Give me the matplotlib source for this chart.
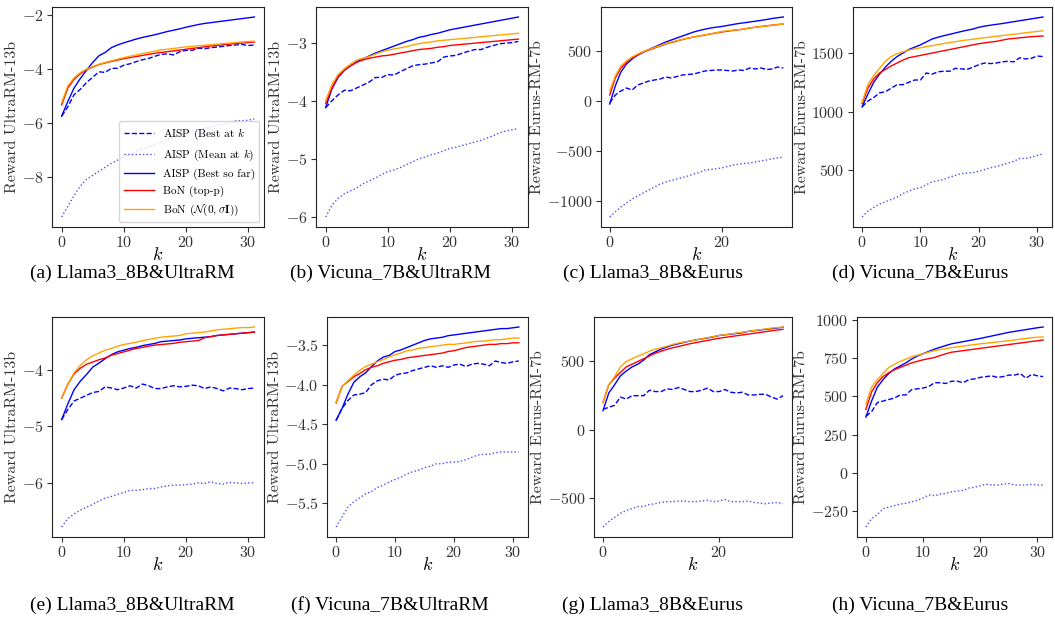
import numpy as np
import matplotlib
matplotlib.use("Agg")
import matplotlib.pyplot as plt

plt.rcParams["font.family"] = "serif"
plt.rcParams["font.serif"] = ["cmr10"]
plt.rcParams["mathtext.fontset"] = "cm"
plt.rcParams["axes.formatter.use_mathtext"] = True
plt.rcParams["axes.unicode_minus"] = True

k = np.arange(32)

# ---- (a) Llama3_8B & UltraRM ----
a_best_at_k = [-5.75, -5.4, -4.95, -4.75, -4.5, -4.3, -4.1, -4.12, -3.97, -3.97, -3.85, -3.8, -3.72, -3.65, -3.6, -3.52,
               -3.45, -3.43, -3.47, -3.35, -3.3, -3.3, -3.22, -3.24, -3.2, -3.18, -3.15, -3.12, -3.1, -3.08, -3.12, -3.1]
a_mean_at_k = [-9.5, -9.1, -8.7, -8.35, -8.1, -7.95, -7.8, -7.65, -7.5, -7.38, -7.25, -7.15, -7.05, -6.97, -6.88, -6.8,
               -6.72, -6.64, -6.55, -6.45, -6.35, -6.3, -6.25, -6.2, -6.15, -6.1, -6.05, -6.0, -5.92, -5.92, -5.9, -5.85]
a_best_so_far = [-5.75, -5.2, -4.7, -4.35, -4.04, -3.75, -3.5, -3.38, -3.2, -3.1, -3.02, -2.95, -2.88, -2.82, -2.77, -2.72,
                 -2.66, -2.6, -2.55, -2.5, -2.44, -2.39, -2.34, -2.3, -2.27, -2.24, -2.21, -2.18, -2.15, -2.12, -2.09, -2.06]
a_bon_topp = [-5.33, -4.7, -4.38, -4.17, -4.02, -3.92, -3.83, -3.77, -3.71, -3.66, -3.61, -3.57, -3.53, -3.49, -3.45, -3.41,
              -3.38, -3.35, -3.32, -3.29, -3.26, -3.23, -3.2, -3.17, -3.14, -3.12, -3.09, -3.07, -3.05, -3.03, -3.01, -2.99]
a_bon_gauss = [-5.25, -4.62, -4.32, -4.13, -4.0, -3.9, -3.82, -3.75, -3.69, -3.63, -3.57, -3.52, -3.47, -3.42, -3.38, -3.33,
               -3.28, -3.26, -3.23, -3.2, -3.17, -3.15, -3.13, -3.11, -3.09, -3.07, -3.05, -3.03, -3.01, -2.99, -2.97, -2.96]

# ---- (b) Vicuna_7B & UltraRM ----
b_best_at_k = [-4.12, -4.0, -3.9, -3.82, -3.83, -3.78, -3.73, -3.68, -3.6, -3.6, -3.55, -3.56, -3.5, -3.45, -3.4, -3.38,
               -3.37, -3.35, -3.33, -3.25, -3.23, -3.22, -3.18, -3.15, -3.12, -3.12, -3.08, -3.05, -3.02, -3.01, -3.0, -2.98]
b_mean_at_k = [-6.0, -5.8, -5.68, -5.6, -5.55, -5.5, -5.43, -5.38, -5.33, -5.27, -5.22, -5.19, -5.15, -5.1, -5.05, -5.0,
               -4.97, -4.93, -4.9, -4.86, -4.82, -4.8, -4.77, -4.74, -4.71, -4.68, -4.64, -4.6, -4.55, -4.52, -4.5, -4.48]
b_best_so_far = [-4.12, -3.8, -3.6, -3.48, -3.4, -3.33, -3.28, -3.23, -3.18, -3.14, -3.1, -3.06, -3.02, -2.98, -2.95, -2.91,
                 -2.89, -2.86, -2.84, -2.81, -2.78, -2.76, -2.74, -2.72, -2.7, -2.68, -2.66, -2.64, -2.62, -2.6, -2.58, -2.56]
b_bon_topp = [-4.05, -3.78, -3.58, -3.47, -3.4, -3.34, -3.3, -3.27, -3.25, -3.23, -3.22, -3.2, -3.18, -3.16, -3.14, -3.12,
              -3.11, -3.1, -3.08, -3.07, -3.05, -3.04, -3.03, -3.02, -3.01, -3.0, -2.99, -2.98, -2.97, -2.96, -2.95, -2.94]
b_bon_gauss = [-4.0, -3.72, -3.55, -3.45, -3.37, -3.3, -3.27, -3.24, -3.2, -3.16, -3.13, -3.11, -3.09, -3.07, -3.04, -3.02,
               -3.0, -2.99, -2.97, -2.96, -2.95, -2.94, -2.93, -2.92, -2.91, -2.9, -2.89, -2.88, -2.87, -2.86, -2.85, -2.84]

# ---- (c) Llama3_8B & Eurus ----
c_best_at_k = [-20, 60, 100, 130, 110, 160, 180, 200, 210, 220, 240, 230, 245, 260, 265, 270,
               285, 300, 305, 310, 310, 305, 300, 310, 305, 330, 320, 330, 315, 320, 340, 330]
c_mean_at_k = [-1160, -1110, -1060, -1020, -980, -950, -920, -890, -860, -830, -810, -795, -780, -765, -750, -730,
               -715, -690, -685, -678, -670, -655, -640, -632, -625, -620, -610, -600, -590, -578, -570, -560]
c_best_so_far = [-30, 150, 290, 370, 420, 460, 490, 515, 540, 565, 590, 610, 630, 650, 670, 690,
                 705, 718, 730, 738, 745, 755, 765, 775, 782, 790, 798, 806, 815, 825, 833, 840]
c_bon_topp = [60, 230, 330, 390, 430, 460, 490, 510, 530, 550, 570, 585, 600, 615, 628, 640,
              650, 660, 670, 680, 690, 698, 705, 712, 720, 730, 738, 745, 752, 758, 764, 770]
c_bon_gauss = [100, 250, 350, 400, 440, 470, 495, 515, 535, 555, 575, 590, 603, 617, 630, 640,
               650, 662, 672, 683, 695, 702, 708, 714, 720, 730, 737, 744, 750, 757, 764, 770]

# ---- (d) Vicuna_7B & Eurus ----
d_best_at_k = [1040, 1090, 1120, 1160, 1170, 1200, 1230, 1230, 1250, 1270, 1270, 1330, 1320, 1340, 1345, 1345,
               1370, 1365, 1360, 1380, 1400, 1415, 1410, 1415, 1425, 1430, 1425, 1460, 1450, 1455, 1475, 1470]
d_mean_at_k = [100, 150, 180, 210, 230, 250, 270, 300, 320, 340, 350, 375, 400, 410, 420, 440,
               455, 470, 475, 480, 490, 505, 520, 530, 545, 560, 575, 600, 600, 610, 625, 640]
d_best_so_far = [1040, 1150, 1250, 1320, 1380, 1430, 1470, 1500, 1530, 1550, 1570, 1595, 1620, 1635, 1648, 1660,
                 1672, 1684, 1695, 1705, 1720, 1730, 1738, 1745, 1752, 1760, 1768, 1776, 1784, 1792, 1800, 1808]
d_bon_topp = [1070, 1200, 1280, 1330, 1360, 1390, 1415, 1440, 1460, 1470, 1480, 1490, 1500, 1510, 1520, 1530,
              1540, 1550, 1560, 1570, 1580, 1587, 1594, 1600, 1610, 1620, 1625, 1630, 1635, 1640, 1643, 1646]
d_bon_gauss = [1080, 1230, 1310, 1370, 1430, 1470, 1495, 1510, 1525, 1535, 1545, 1555, 1563, 1572, 1581, 1590,
               1598, 1605, 1612, 1618, 1625, 1631, 1637, 1643, 1649, 1655, 1661, 1667, 1673, 1679, 1685, 1690]

# ---- (e) Llama3_8B & UltraRM ----
e_best_at_k = [-4.88, -4.7, -4.55, -4.5, -4.45, -4.4, -4.38, -4.3, -4.32, -4.35, -4.32, -4.28, -4.32, -4.25, -4.28, -4.33,
               -4.33, -4.3, -4.28, -4.3, -4.29, -4.27, -4.28, -4.33, -4.3, -4.33, -4.37, -4.32, -4.33, -4.35, -4.33, -4.32]
e_mean_at_k = [-6.78, -6.63, -6.55, -6.48, -6.43, -6.38, -6.32, -6.27, -6.24, -6.2, -6.17, -6.13, -6.13, -6.12, -6.1, -6.1,
               -6.07, -6.05, -6.04, -6.04, -6.03, -6.02, -6.0, -6.01, -5.98, -6.01, -6.02, -5.99, -6.0, -6.01, -6.0, -6.0]
e_best_so_far = [-4.88, -4.6, -4.35, -4.2, -4.08, -3.95, -3.88, -3.8, -3.73, -3.68, -3.65, -3.62, -3.6, -3.57, -3.55, -3.53,
                 -3.5, -3.49, -3.48, -3.47, -3.45, -3.44, -3.43, -3.42, -3.41, -3.39, -3.38, -3.37, -3.36, -3.35, -3.34, -3.33]
e_bon_topp = [-4.5, -4.25, -4.07, -3.97, -3.9, -3.86, -3.82, -3.79, -3.74, -3.71, -3.68, -3.65, -3.62, -3.6, -3.58, -3.56,
              -3.55, -3.54, -3.53, -3.51, -3.5, -3.49, -3.48, -3.43, -3.41, -3.39, -3.38, -3.37, -3.36, -3.35, -3.34, -3.33]
e_bon_gauss = [-4.5, -4.25, -4.05, -3.92, -3.82, -3.75, -3.7, -3.65, -3.62, -3.58, -3.55, -3.53, -3.51, -3.48, -3.46, -3.44,
               -3.42, -3.41, -3.4, -3.39, -3.36, -3.35, -3.34, -3.33, -3.31, -3.29, -3.28, -3.27, -3.26, -3.25, -3.25, -3.24]

# ---- (f) Vicuna_7B & UltraRM ----
f_best_at_k = [-4.45, -4.3, -4.2, -4.13, -4.12, -4.1, -4.0, -3.95, -3.93, -3.94, -3.88, -3.86, -3.85, -3.82, -3.8, -3.78,
               -3.76, -3.78, -3.76, -3.78, -3.75, -3.74, -3.77, -3.74, -3.73, -3.74, -3.76, -3.7, -3.72, -3.73, -3.71, -3.7]
f_mean_at_k = [-5.8, -5.67, -5.55, -5.48, -5.43, -5.38, -5.35, -5.3, -5.27, -5.23, -5.2, -5.17, -5.13, -5.1, -5.08, -5.05,
               -5.03, -5.0, -5.0, -4.98, -4.98, -4.97, -4.95, -4.92, -4.89, -4.88, -4.88, -4.86, -4.85, -4.85, -4.85, -4.85]
f_best_so_far = [-4.45, -4.3, -4.12, -3.97, -3.9, -3.85, -3.77, -3.7, -3.65, -3.63, -3.58, -3.56, -3.53, -3.5, -3.47, -3.44,
                 -3.42, -3.41, -3.4, -3.38, -3.37, -3.36, -3.35, -3.34, -3.33, -3.32, -3.31, -3.3, -3.29, -3.29, -3.28, -3.27]
f_bon_topp = [-4.23, -4.02, -3.96, -3.9, -3.86, -3.81, -3.78, -3.76, -3.73, -3.71, -3.69, -3.68, -3.66, -3.65, -3.64, -3.63,
              -3.62, -3.61, -3.6, -3.58, -3.57, -3.55, -3.53, -3.52, -3.51, -3.5, -3.49, -3.49, -3.48, -3.48, -3.47, -3.47]
f_bon_gauss = [-4.22, -4.02, -3.95, -3.88, -3.82, -3.77, -3.74, -3.71, -3.68, -3.65, -3.62, -3.6, -3.57, -3.56, -3.54, -3.53,
               -3.52, -3.51, -3.5, -3.49, -3.49, -3.48, -3.47, -3.46, -3.45, -3.45, -3.44, -3.43, -3.43, -3.42, -3.41, -3.41]

# ---- (g) Llama3_8B & Eurus ----
g_best_at_k = [150, 165, 180, 240, 225, 250, 250, 250, 290, 280, 280, 300, 295, 310, 295, 280,
               280, 290, 305, 280, 280, 295, 275, 270, 275, 255, 255, 260, 260, 240, 225, 250]
g_mean_at_k = [-710, -670, -640, -610, -590, -575, -560, -560, -545, -540, -530, -525, -525, -520, -520, -525,
               -525, -520, -515, -525, -520, -510, -525, -525, -525, -520, -530, -535, -540, -535, -530, -540]
g_best_so_far = [140, 270, 330, 395, 430, 460, 480, 510, 550, 570, 590, 605, 620, 630, 640, 650,
                 658, 665, 672, 680, 690, 695, 700, 705, 710, 720, 725, 730, 735, 740, 745, 750]
g_bon_topp = [200, 330, 380, 420, 460, 480, 500, 520, 540, 560, 575, 588, 600, 610, 620, 630,
              638, 646, 654, 662, 670, 676, 682, 688, 694, 700, 706, 712, 718, 724, 730, 735]
g_bon_gauss = [200, 330, 390, 460, 500, 520, 540, 555, 575, 590, 600, 612, 625, 635, 643, 650,
               658, 666, 674, 682, 690, 696, 702, 708, 714, 720, 726, 732, 738, 744, 748, 752]

# ---- (h) Vicuna_7B & Eurus ----
h_best_at_k = [370, 400, 460, 470, 480, 490, 510, 510, 545, 550, 555, 565, 590, 590, 585, 600,
               600, 590, 610, 615, 625, 630, 635, 625, 630, 640, 640, 650, 620, 645, 635, 630]
h_mean_at_k = [-355, -300, -275, -235, -225, -215, -205, -200, -190, -180, -165, -145, -150, -140, -135, -125,
               -120, -115, -100, -95, -85, -75, -80, -80, -75, -70, -80, -80, -80, -75, -80, -80]
h_best_so_far = [365, 470, 560, 610, 650, 680, 700, 720, 745, 765, 780, 795, 810, 822, 834, 845,
                 852, 859, 866, 873, 880, 888, 896, 904, 912, 920, 926, 932, 938, 944, 950, 955]
h_bon_topp = [415, 530, 590, 630, 655, 675, 690, 705, 720, 730, 740, 748, 755, 768, 780, 790,
              795, 800, 805, 810, 815, 820, 825, 830, 835, 840, 845, 850, 855, 860, 865, 870]
h_bon_gauss = [450, 560, 610, 650, 690, 710, 730, 745, 760, 770, 780, 790, 800, 807, 814, 820,
               825, 830, 835, 840, 845, 849, 853, 857, 861, 865, 870, 875, 880, 885, 888, 890]

captions = ["(a) Llama3_8B&UltraRM", "(b) Vicuna_7B&UltraRM", "(c) Llama3_8B&Eurus", "(d) Vicuna_7B&Eurus",
            "(e) Llama3_8B&UltraRM", "(f) Vicuna_7B&UltraRM", "(g) Llama3_8B&Eurus", "(h) Vicuna_7B&Eurus"]
ylabels = ["Reward UltraRM-13b", "Reward UltraRM-13b", "Reward Eurus-RM-7b", "Reward Eurus-RM-7b"] * 2
yticks = [[-8, -6, -4, -2], [-6, -5, -4, -3], [-1000, -500, 0, 500], [500, 1000, 1500],
          [-6, -5, -4], [-5.5, -5.0, -4.5, -4.0, -3.5], [-500, 0, 500], [-250, 0, 250, 500, 750, 1000]]
xticks = [[0, 10, 20, 30], [0, 10, 20, 30], [0, 20], [0, 10, 20, 30]] * 2

panels = [
    (a_best_at_k, a_mean_at_k, a_best_so_far, a_bon_topp, a_bon_gauss),
    (b_best_at_k, b_mean_at_k, b_best_so_far, b_bon_topp, b_bon_gauss),
    (c_best_at_k, c_mean_at_k, c_best_so_far, c_bon_topp, c_bon_gauss),
    (d_best_at_k, d_mean_at_k, d_best_so_far, d_bon_topp, d_bon_gauss),
    (e_best_at_k, e_mean_at_k, e_best_so_far, e_bon_topp, e_bon_gauss),
    (f_best_at_k, f_mean_at_k, f_best_so_far, f_bon_topp, f_bon_gauss),
    (g_best_at_k, g_mean_at_k, g_best_so_far, g_bon_topp, g_bon_gauss),
    (h_best_at_k, h_mean_at_k, h_best_so_far, h_bon_topp, h_bon_gauss),
]

W, H = 1055, 621
# axes boxes in pixels: left, right, top, bottom
boxes = [(52, 264, 7, 227), (316, 528, 7, 227), (601, 792, 7, 227), (853, 1052, 7, 227),
         (52, 264, 317, 537), (327, 528, 317, 537), (594, 792, 317, 537), (857, 1052, 317, 537)]
caption_x = [132, 390, 653, 920] * 2
caption_y = [273] * 4 + [605] * 4

fig = plt.figure(figsize=(W / 100, H / 100), dpi=100)

for i, (best_k, mean_k, best_sf, topp, gauss) in enumerate(panels):
    l, r, t, b = boxes[i]
    ax = fig.add_axes([l / W, 1 - b / H, (r - l) / W, (b - t) / H])
    ax.plot(k, best_k, color="blue", linestyle="--", linewidth=1.0, label=r"AISP (Best at $k$")
    ax.plot(k, mean_k, color="blue", linestyle=":", linewidth=1.0, alpha=0.7, label=r"AISP (Mean at $k$)")
    ax.plot(k, best_sf, color="blue", linewidth=1.0, label="AISP (Best so far)")
    ax.plot(k, topp, color="red", linewidth=1.0, label="BoN (top-p)")
    ax.plot(k, gauss, color="orange", linewidth=1.0, label=r"BoN ($\mathcal{N}(\mathbf{0},\sigma\mathbf{I})$)")
    ax.set_xticks(xticks[i])
    ax.set_yticks(yticks[i])
    ax.tick_params(labelsize=11.5, colors="#333333", pad=2.5)
    ax.set_xlabel(r"$k$", fontsize=13, labelpad=-3)
    ax.set_ylabel(ylabels[i], fontsize=11.5, color="#333333", labelpad=2)
    for s in ax.spines.values():
        s.set_color("#222222")
    if i == 0:
        ax.legend(loc="lower right", fontsize=8.2, handlelength=2.6, borderaxespad=0.4)
    fig.text(caption_x[i] / W, 1 - caption_y[i] / H, captions[i], ha="center", va="center",
             fontsize=14, family="Liberation Serif")

fig.savefig("out.png", dpi=100)
